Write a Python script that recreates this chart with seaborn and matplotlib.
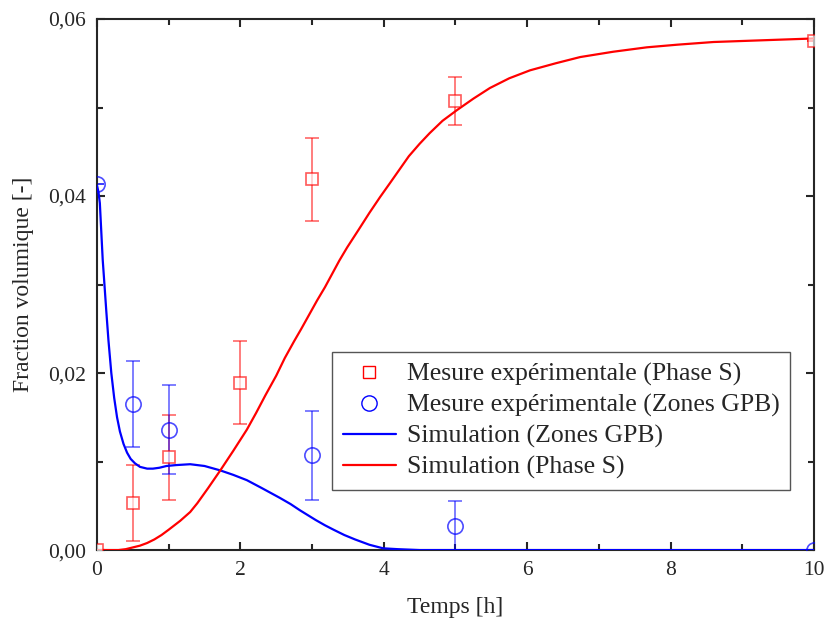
import numpy as np
import pandas as pd
import matplotlib
matplotlib.use("Agg")
import matplotlib.pyplot as plt
from matplotlib.ticker import MultipleLocator, FuncFormatter
from matplotlib.lines import Line2D
import seaborn as sns

# Experimental points (Phase S)
s_time = [0, 0.5, 1, 2, 3, 5, 10]
s_frac = [0.0, 0.0053, 0.0105, 0.0189, 0.0419, 0.0507, 0.0575]
s_err = [0.0, 0.0043, 0.0048, 0.0047, 0.0047, 0.0027, 0.0]

# Experimental points (Zones GPB)
gpb_time = [0, 0.5, 1, 3, 5, 10]
gpb_frac = [0.0414, 0.0165, 0.0136, 0.0107, 0.0027, 0.0]
gpb_err = [0.0, 0.0049, 0.0050, 0.0050, 0.0028, 0.0]

# Simulated curves
sim_gpb_time = [0, 0.02, 0.04, 0.06, 0.08, 0.1, 0.13, 0.16, 0.2, 0.24, 0.28, 0.32, 0.37,
                0.42, 0.47, 0.53, 0.6, 0.7, 0.78, 0.87, 0.97, 1.1, 1.3, 1.5, 1.72, 1.9,
                2.09, 2.3, 2.55, 2.7, 2.83, 2.95, 3.05, 3.18, 3.3, 3.45, 3.6, 3.8, 3.99,
                4.2, 4.5, 10]
sim_gpb_frac = [0.0412, 0.0405, 0.0392, 0.0360, 0.0328, 0.0305, 0.0270, 0.0237, 0.0200,
                0.0172, 0.0150, 0.0134, 0.0120, 0.0110, 0.0103, 0.0098, 0.0094, 0.0092,
                0.0092, 0.0093, 0.0095, 0.0096, 0.0097, 0.0095, 0.0090, 0.0085, 0.0079,
                0.0070, 0.0059, 0.0052, 0.0045, 0.0039, 0.0034, 0.0028, 0.0023, 0.0017,
                0.0012, 0.0006, 0.0002, 0.0001, 0.0, 0.0]

sim_s_time = [0, 0.3, 0.4, 0.5, 0.6, 0.7, 0.8, 0.9, 1.0, 1.16, 1.3, 1.4, 1.55, 1.72, 1.9,
              2.09, 2.22, 2.35, 2.5, 2.62, 2.75, 2.85, 2.96, 3.07, 3.18, 3.28, 3.38, 3.49,
              3.65, 3.8, 3.95, 4.09, 4.22, 4.35, 4.5, 4.64, 4.82, 5.02, 5.25, 5.48, 5.75,
              6.04, 6.4, 6.74, 7.2, 7.67, 8.1, 8.6, 9.3, 10]
sim_s_frac = [0.0, 0.0, 0.0001, 0.0003, 0.0005, 0.0008, 0.0012, 0.0017, 0.0023, 0.0033,
              0.0043, 0.0053, 0.0070, 0.0090, 0.0112, 0.0136, 0.0155, 0.0175, 0.0197,
              0.0217, 0.0236, 0.0250, 0.0266, 0.0282, 0.0297, 0.0312, 0.0327, 0.0342,
              0.0362, 0.0381, 0.0399, 0.0415, 0.0430, 0.0445, 0.0459, 0.0471, 0.0485,
              0.0497, 0.0510, 0.0522, 0.0533, 0.0542, 0.0550, 0.0557, 0.0563, 0.0568,
              0.0571, 0.0574, 0.0576, 0.0578]

red = "#ff0000"
blue = "#0000ff"

sns.set_style("ticks")
plt.rcParams["font.family"] = ["Liberation Serif", "DejaVu Serif"]

fig = plt.figure(figsize=(8.26, 6.33), dpi=100)
ax = fig.add_axes([0.1174, 0.131, 0.868, 0.839])

sim_gpb = pd.DataFrame({"t": sim_gpb_time, "f": sim_gpb_frac})
sim_s = pd.DataFrame({"t": sim_s_time, "f": sim_s_frac})
sns.lineplot(data=sim_gpb, x="t", y="f", color=blue, lw=1.6, ax=ax, sort=False, zorder=3)
sns.lineplot(data=sim_s, x="t", y="f", color=red, lw=1.6, ax=ax, sort=False, zorder=3)

ax.errorbar(s_time, s_frac, yerr=s_err, fmt="none", ecolor=red, alpha=0.55,
            elinewidth=1.3, capsize=5, capthick=1.3, zorder=2)
ax.errorbar(gpb_time, gpb_frac, yerr=gpb_err, fmt="none", ecolor=blue, alpha=0.55,
            elinewidth=1.3, capsize=5, capthick=1.3, zorder=2)

ax.plot(s_time, s_frac, ls="none", marker="s", ms=9, mfc="white", mec=red,
        mew=1.2, alpha=0.65, zorder=4)
ax.plot(gpb_time, gpb_frac, ls="none", marker="o", ms=11, mfc="none", mec=blue,
        mew=1.2, alpha=0.7, zorder=4)

ax.set_xlim(0, 10)
ax.set_ylim(0, 0.06)
ax.xaxis.set_major_locator(MultipleLocator(2))
ax.xaxis.set_minor_locator(MultipleLocator(1))
ax.yaxis.set_major_locator(MultipleLocator(0.02))
ax.yaxis.set_minor_locator(MultipleLocator(0.01))
ax.xaxis.set_major_formatter(FuncFormatter(lambda v, p: f"{v:g}"))
ax.yaxis.set_major_formatter(FuncFormatter(lambda v, p: f"{v:.2f}".replace(".", ",")))
ax.tick_params(which="both", direction="in", top=True, right=True, width=1.5,
               labelsize=15.5, pad=8)
ax.tick_params(which="major", length=6)
ax.tick_params(which="minor", length=4)
for sp in ax.spines.values():
    sp.set_linewidth(1.5)
    sp.set_visible(True)

ax.set_xlabel("Temps [h]", fontsize=17, labelpad=12)
ax.set_ylabel("Fraction volumique [-]", fontsize=17, labelpad=10)

handles = [
    Line2D([], [], ls="none", marker="s", ms=9, mfc="white", mec=red, mew=1.0),
    Line2D([], [], ls="none", marker="o", ms=11, mfc="white", mec=blue, mew=1.0),
    Line2D([], [], color=blue, lw=1.6),
    Line2D([], [], color=red, lw=1.6),
]
labels = [
    "Mesure expérimentale (Phase S)",
    "Mesure expérimentale (Zones GPB)",
    "Simulation (Zones GPB)",
    "Simulation (Phase S)",
]
leg = ax.legend(handles, labels, loc="lower right", bbox_to_anchor=(0.967, 0.113),
                fontsize=18.5, frameon=True, fancybox=False, edgecolor="#555555",
                framealpha=1, handlelength=2.1, handletextpad=0.4, borderpad=0.42,
                borderaxespad=0, labelspacing=0.3)
leg.get_frame().set_linewidth(1.0)

fig.savefig("out.png", dpi=100)
